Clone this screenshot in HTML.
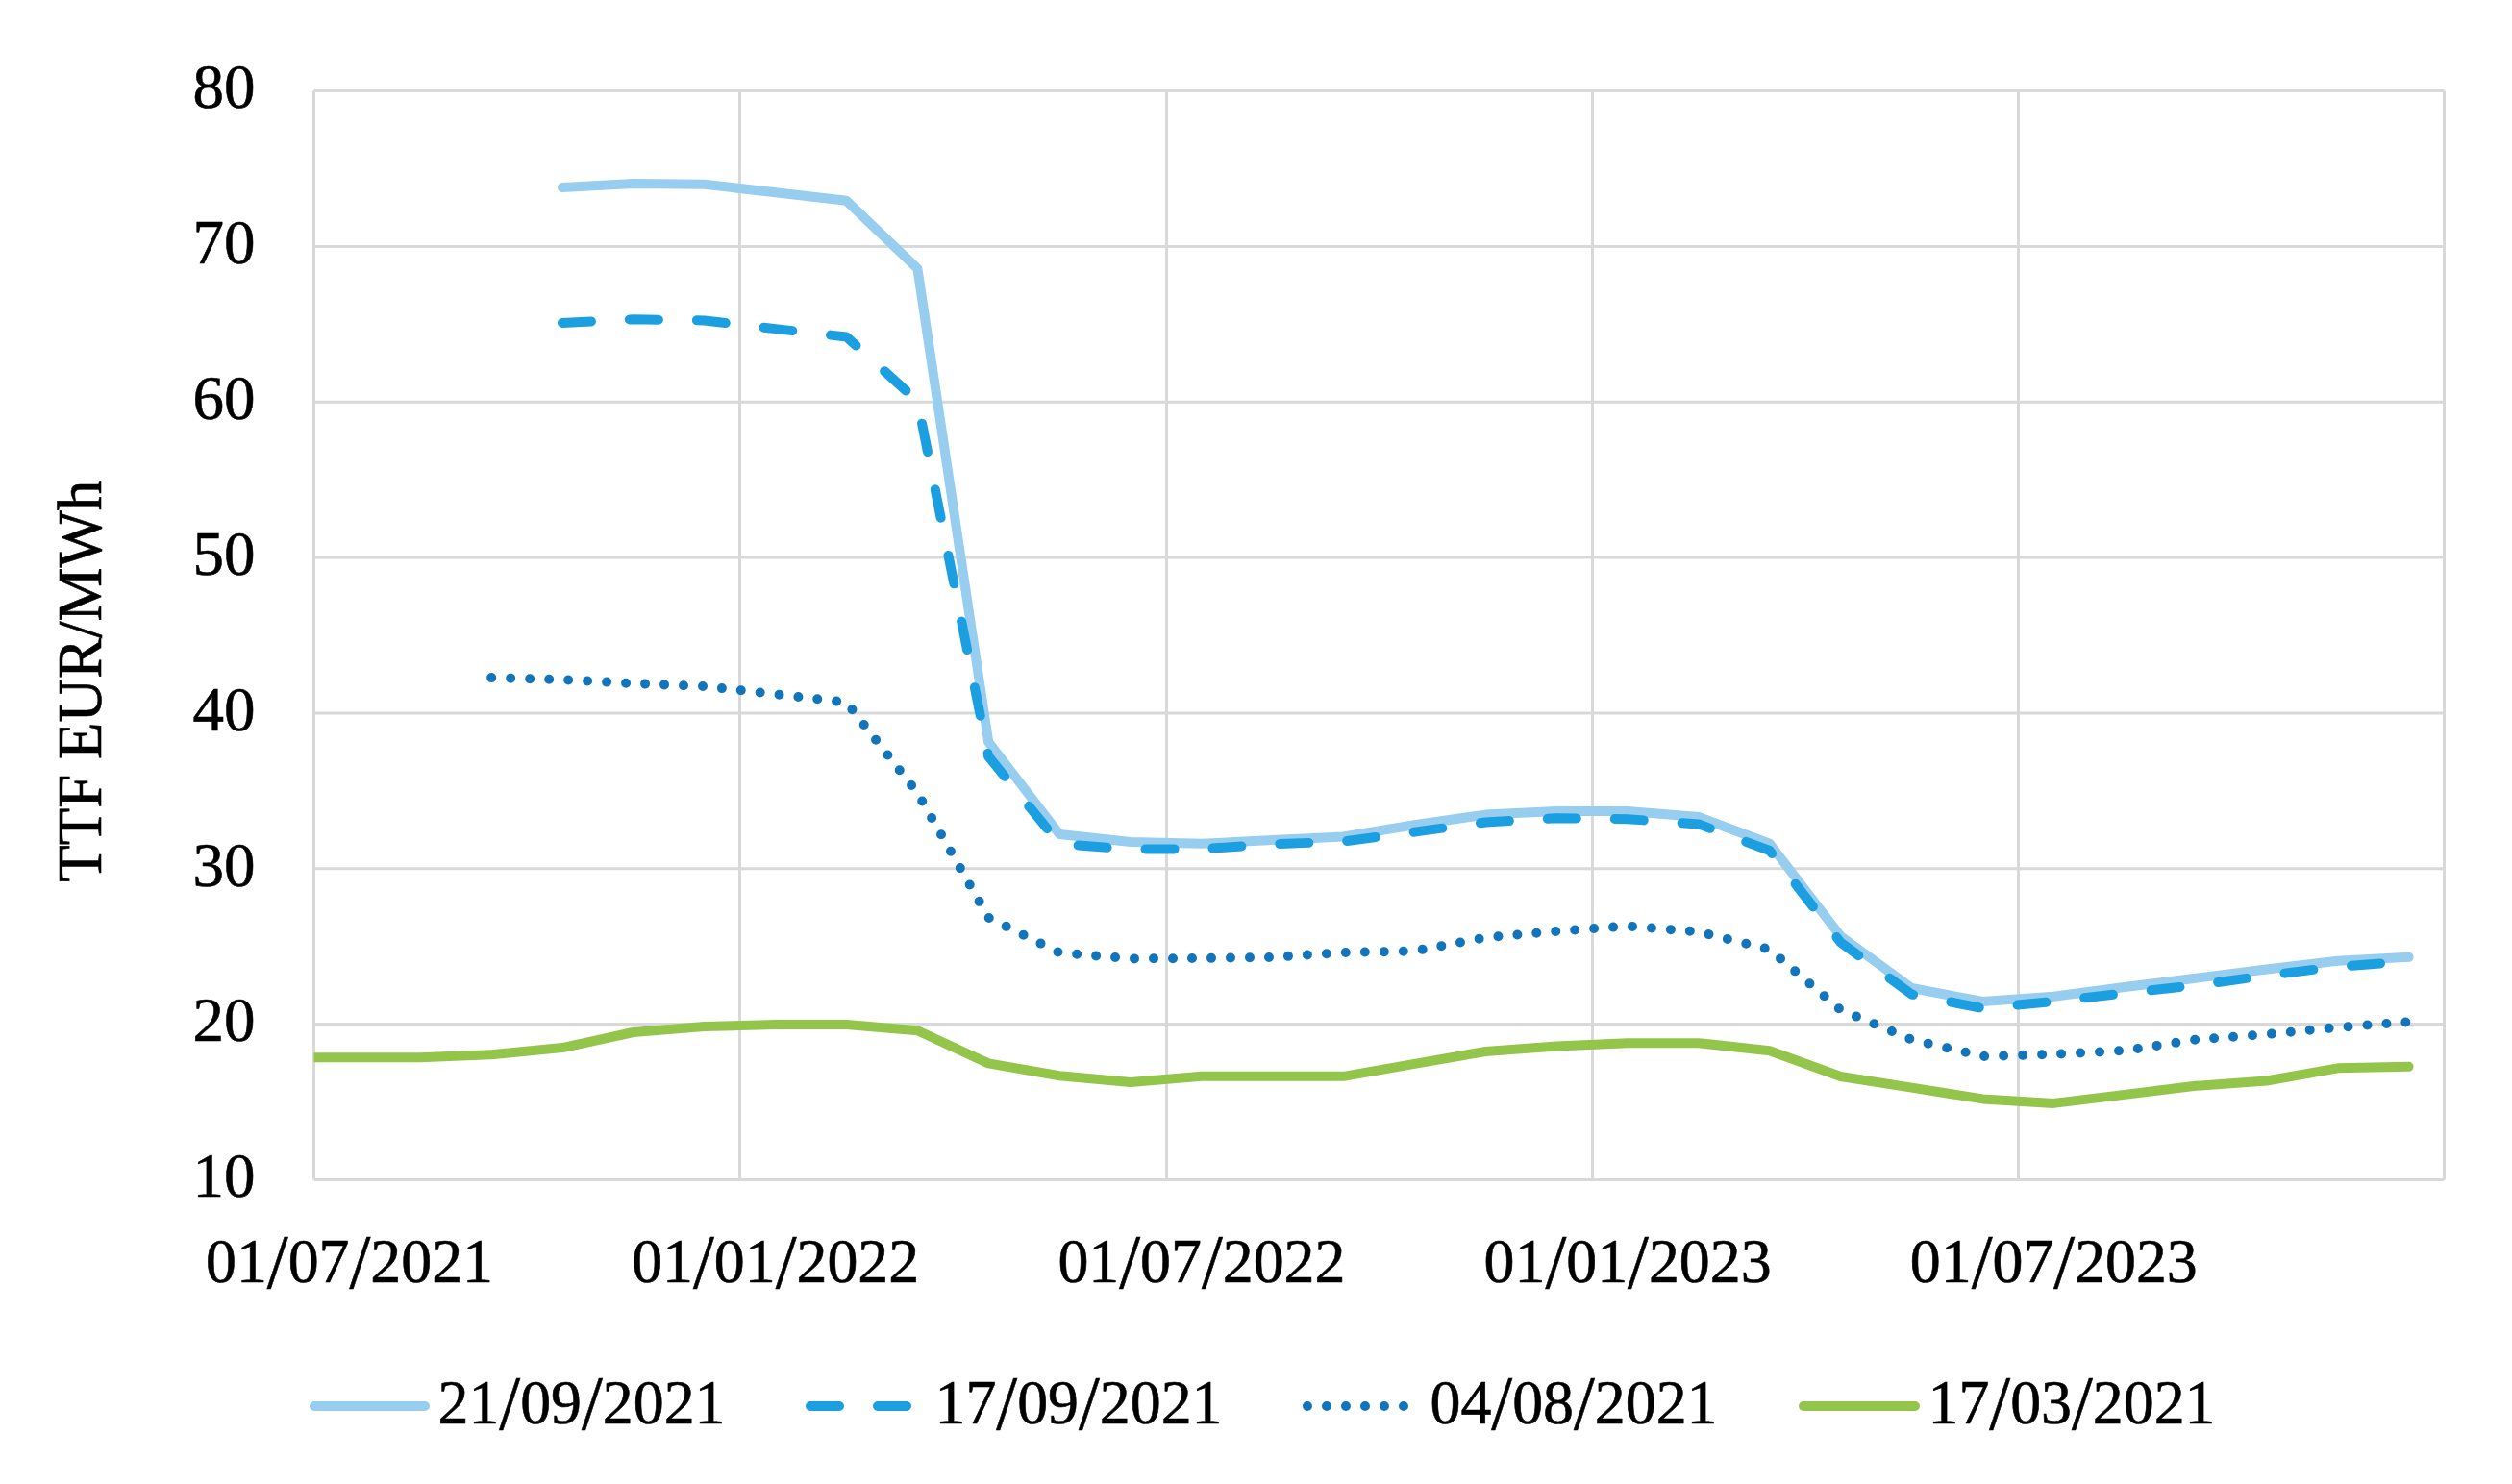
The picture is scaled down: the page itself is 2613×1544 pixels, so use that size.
<!DOCTYPE html>
<html><head><meta charset="utf-8"><style>
html,body{margin:0;padding:0;background:#fff;}
svg{display:block;}
text{font-family:"Liberation Serif",serif;font-size:65px;fill:#000;stroke:#000;stroke-width:0.6px;}
</style></head><body>
<svg width="2613" height="1544" viewBox="0 0 2613 1544">
<defs><clipPath id="pc"><rect x="326.5" y="0" width="2400" height="1544"/></clipPath></defs>
<rect width="2613" height="1544" fill="#fff"/>
<g stroke="#d9d9d9" stroke-width="3" fill="none">
<line x1="326.5" y1="94.5" x2="2542.5" y2="94.5"/>
<line x1="326.5" y1="256.4" x2="2542.5" y2="256.4"/>
<line x1="326.5" y1="418.2" x2="2542.5" y2="418.2"/>
<line x1="326.5" y1="580.1" x2="2542.5" y2="580.1"/>
<line x1="326.5" y1="741.9" x2="2542.5" y2="741.9"/>
<line x1="326.5" y1="903.8" x2="2542.5" y2="903.8"/>
<line x1="326.5" y1="1065.6" x2="2542.5" y2="1065.6"/>
<line x1="326.5" y1="1227.5" x2="2542.5" y2="1227.5"/>
<line x1="326.5" y1="94.5" x2="326.5" y2="1227.5"/>
<line x1="769.5" y1="94.5" x2="769.5" y2="1227.5"/>
<line x1="1213.5" y1="94.5" x2="1213.5" y2="1227.5"/>
<line x1="1656.5" y1="94.5" x2="1656.5" y2="1227.5"/>
<line x1="2099.5" y1="94.5" x2="2099.5" y2="1227.5"/>
<line x1="2542.5" y1="94.5" x2="2542.5" y2="1227.5"/>
</g>
<g fill="none" stroke-width="10" stroke-linejoin="round" stroke-linecap="round">
<path d="M585.0 195.1 L658.9 191.0 L732.8 191.7 L806.6 200.3 L880.5 208.8 L954.4 279.5 L1028.2 772.0 L1102.1 868.0 L1176.0 876.0 L1249.8 877.8 L1323.7 874.1 L1397.6 870.4 L1471.4 858.2 L1545.3 847.6 L1619.2 844.1 L1693.0 844.1 L1766.9 849.9 L1840.8 877.7 L1914.6 974.0 L1988.5 1028.0 L2062.4 1042.0 L2136.2 1036.7 L2210.1 1027.0 L2284.0 1017.7 L2357.8 1008.5 L2431.7 999.7 L2505.6 995.8" stroke="#97cdef"/>
<path d="M585.0 335.9 L658.9 332.2 L732.8 333.5 L806.6 342.1 L880.5 350.5 L954.4 417.3 L1028.2 787.0 L1102.1 878.0 L1176.0 883.5 L1249.8 883.3 L1323.7 878.3 L1397.6 875.5 L1471.4 865.6 L1545.3 855.5 L1619.2 851.2 L1693.0 852.2 L1766.9 857.4 L1840.8 885.0 L1914.6 980.5 L1988.5 1034.5 L2062.4 1049.0 L2136.2 1042.0 L2210.1 1033.4 L2284.0 1025.1 L2357.8 1015.0 L2431.7 1005.7 L2505.6 1000.4" stroke="#1b9fe0" stroke-dasharray="30 40"/>
<path d="M511.2 705.1 L585.0 707.1 L658.9 711.1 L732.8 714.1 L806.6 722.3 L880.5 730.8 L954.4 825.1 L1028.2 954.7 L1102.1 991.3 L1176.0 997.4 L1249.8 997.0 L1323.7 995.9 L1397.6 991.1 L1471.4 989.4 L1545.3 975.5 L1619.2 968.9 L1693.0 963.5 L1766.9 969.5 L1840.8 987.8 L1914.6 1050.8 L1988.5 1081.6 L2062.4 1099.0 L2136.2 1097.0 L2210.1 1093.0 L2284.0 1081.7 L2357.8 1076.1 L2431.7 1069.0 L2505.6 1063.2" stroke="#1275bb" stroke-dasharray="0 20"/>
<path d="M306.5 1100.2 L363.4 1100.2 L437.3 1100.2 L511.2 1097.2 L585.0 1090.1 L658.9 1074.0 L732.8 1068.1 L806.6 1066.1 L880.5 1066.1 L954.4 1072.2 L1028.2 1106.4 L1102.1 1119.2 L1176.0 1126.0 L1249.8 1119.8 L1323.7 1119.8 L1397.6 1119.8 L1471.4 1106.8 L1545.3 1094.0 L1619.2 1088.5 L1693.0 1085.2 L1766.9 1085.2 L1840.8 1093.2 L1914.6 1120.0 L1988.5 1131.6 L2062.4 1143.4 L2136.2 1147.9 L2210.1 1138.9 L2284.0 1129.8 L2357.8 1124.5 L2431.7 1111.3 L2505.6 1109.8" stroke="#92c54a" clip-path="url(#pc)"/>
</g>
<g>
<text x="265.4" y="112.3" text-anchor="end">80</text>
<text x="265.4" y="274.2" text-anchor="end">70</text>
<text x="265.4" y="436.0" text-anchor="end">60</text>
<text x="265.4" y="597.9" text-anchor="end">50</text>
<text x="265.4" y="759.7" text-anchor="end">40</text>
<text x="265.4" y="921.6" text-anchor="end">30</text>
<text x="265.4" y="1083.4" text-anchor="end">20</text>
<text x="265.4" y="1245.3" text-anchor="end">10</text>
<text x="363.5" y="1334.1" text-anchor="middle" textLength="299" lengthAdjust="spacingAndGlyphs">01<tspan font-size="80" dy="6">/</tspan><tspan dy="-6">07</tspan><tspan font-size="80" dy="6">/</tspan><tspan dy="-6">2021</tspan></text>
<text x="806.7" y="1334.1" text-anchor="middle" textLength="299" lengthAdjust="spacingAndGlyphs">01<tspan font-size="80" dy="6">/</tspan><tspan dy="-6">01</tspan><tspan font-size="80" dy="6">/</tspan><tspan dy="-6">2022</tspan></text>
<text x="1249.9" y="1334.1" text-anchor="middle" textLength="299" lengthAdjust="spacingAndGlyphs">01<tspan font-size="80" dy="6">/</tspan><tspan dy="-6">07</tspan><tspan font-size="80" dy="6">/</tspan><tspan dy="-6">2022</tspan></text>
<text x="1693.1" y="1334.1" text-anchor="middle" textLength="299" lengthAdjust="spacingAndGlyphs">01<tspan font-size="80" dy="6">/</tspan><tspan dy="-6">01</tspan><tspan font-size="80" dy="6">/</tspan><tspan dy="-6">2023</tspan></text>
<text x="2136.3" y="1334.1" text-anchor="middle" textLength="299" lengthAdjust="spacingAndGlyphs">01<tspan font-size="80" dy="6">/</tspan><tspan dy="-6">07</tspan><tspan font-size="80" dy="6">/</tspan><tspan dy="-6">2023</tspan></text>
<text transform="translate(104.9 917.7) rotate(-90)" textLength="418" lengthAdjust="spacingAndGlyphs">TTF EUR/MWh</text>
</g>
<g fill="none" stroke-width="10" stroke-linecap="round">
<path d="M327 1463 H442" stroke="#97cdef"/>
<path d="M843 1463 H943" stroke="#1b9fe0" stroke-dasharray="30 40"/>
<path d="M1360 1463 H1460.5" stroke="#1275bb" stroke-dasharray="0 20"/>
<path d="M1876 1463 H1992" stroke="#92c54a"/>
</g>
<g>
<text x="455.5" y="1480.5" textLength="299" lengthAdjust="spacingAndGlyphs">21<tspan font-size="80" dy="6">/</tspan><tspan dy="-6">09</tspan><tspan font-size="80" dy="6">/</tspan><tspan dy="-6">2021</tspan></text>
<text x="972.5" y="1480.5" textLength="299" lengthAdjust="spacingAndGlyphs">17<tspan font-size="80" dy="6">/</tspan><tspan dy="-6">09</tspan><tspan font-size="80" dy="6">/</tspan><tspan dy="-6">2021</tspan></text>
<text x="1487.5" y="1480.5" textLength="299" lengthAdjust="spacingAndGlyphs">04<tspan font-size="80" dy="6">/</tspan><tspan dy="-6">08</tspan><tspan font-size="80" dy="6">/</tspan><tspan dy="-6">2021</tspan></text>
<text x="2005.5" y="1480.5" textLength="299" lengthAdjust="spacingAndGlyphs">17<tspan font-size="80" dy="6">/</tspan><tspan dy="-6">03</tspan><tspan font-size="80" dy="6">/</tspan><tspan dy="-6">2021</tspan></text>
</g>
</svg>
</body></html>
